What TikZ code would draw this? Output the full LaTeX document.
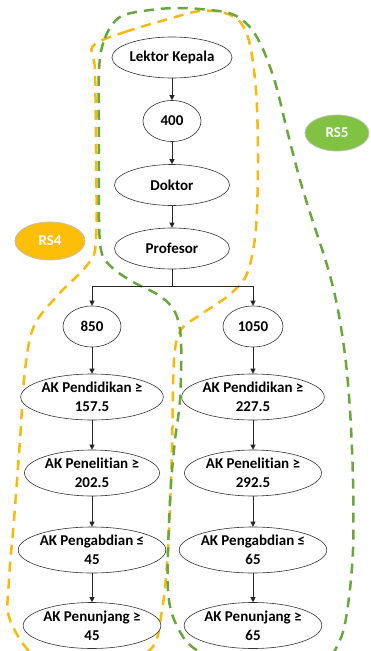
\documentclass[tikz,border=0pt]{standalone}
\usepackage{fontspec}
\setmainfont{Carlito}[Ligatures=NoCommon]
\usetikzlibrary{shapes.geometric,arrows.meta}
\definecolor{rsorange}{HTML}{F7B90A}
\definecolor{rsgreen}{HTML}{6AA63E}
\definecolor{rsorangefill}{HTML}{FDBE08}
\definecolor{rsgreenfill}{HTML}{80C343}
\begin{document}
\begin{tikzpicture}[x=1pt,y=-1pt,
  state/.style={ellipse, draw=black!80, line width=0.6pt, inner sep=0pt,
    font=\fontsize{15}{19}\selectfont\bfseries, align=center, fill=white},
  short/.style={state, minimum width=58, minimum height=41},
  wide/.style={state, minimum width=115, minimum height=41},
  crit/.style={state, minimum width=135, minimum height=46},
  link/.style={draw=black!85, line width=0.6pt, -{Triangle[length=5pt,width=5pt]}},
  tag/.style={ellipse, draw=black!25, line width=0.8pt, inner sep=0pt, text=white,
    font=\fontsize{15}{17}\selectfont\bfseries},
  loop/.style={line width=2.5pt, dash pattern=on 10pt off 7pt}
]
\useasboundingbox (0,0) rectangle (371,651);

% group outlines
\begin{scope}
  \clip (0,0) rectangle (371,651);
  \draw[loop, rsorange] plot[smooth cycle, tension=0.55] coordinates {
    (93,46) (125,32) (165,20) (200,11) (225,13) (241,23) (250,45) (256,90)
    (258,150) (257,210) (254,245) (246,276) (228,296) (200,315) (181,330)
    (174,360) (172,450) (168,550) (162,610) (150,650) (100,668) (40,660)
    (10,620) (9,580) (14,520) (20,440) (25,370) (34,326) (58,295) (88,264)
    (96,240) (96,150) (95,70)};
  \draw[loop, rsgreen] plot[smooth cycle, tension=0.55] coordinates {
    (99,70) (105,38) (120,17) (150,10) (180,8) (210,10) (232,14) (249,26)
    (262,47) (275,82) (287,130) (300,180) (313,222) (327,265) (337,305)
    (345,355) (350,410) (353,480) (353,550) (348,605) (340,640) (320,664)
    (260,672) (200,652) (178,628) (168,590) (170,500) (175,440) (180,400)
    (181,340) (175,312) (160,296) (135,283) (115,270) (102,254) (99,220)
    (99,150)};
\end{scope}

% main chain
\node[wide]  (lk)   at (172,57.5)  {Lektor Kepala};
\node[short] (n400) at (172,121)   {400};
\node[wide]  (dok)  at (172,185)   {Doktor};
\node[wide]  (prof) at (172,248.5) {Profesor};

% branches
\node[short] (n850) at (92,326.5) {850};
\node[short, minimum width=60] (n1050) at (253,326.5) {1050};

\node[crit] (pd1) at (92,397)   {AK Pendidikan ≥\\157.5};
\node[crit] (pn1) at (92,473)   {AK Penelitian ≥\\202.5};
\node[crit] (pg1) at (92,550)   {AK Pengabdian ≤\\45};
\node[crit] (pj1) at (92,625.5) {AK Penunjang ≥\\45};

\node[crit, minimum width=137] (pd2) at (253,397)   {AK Pendidikan ≥\\227.5};
\node[crit, minimum width=137] (pn2) at (253,473)   {AK Penelitian ≥\\292.5};
\node[crit, minimum width=137] (pg2) at (253,550)   {AK Pengabdian ≤\\65};
\node[crit, minimum width=137] (pj2) at (253,625.5) {AK Penunjang ≥\\65};

% group tags
\node[tag, fill=rsorangefill, minimum width=70, minimum height=38] (rs4) at (50,241) {RS4};
\node[tag, fill=rsgreenfill, minimum width=64, minimum height=36] (rs5) at (337,133) {RS5};

% connectors
\draw[link] (lk) -- (n400);
\draw[link] (n400) -- (dok);
\draw[link] (dok) -- (prof);
\coordinate (split) at (172,286);
\draw[draw=black!85, line width=0.6pt] (prof) -- (split);
\draw[link] (split) -| (n850);
\draw[link] (split) -| (n1050);
\draw[link] (n850) -- (pd1);
\draw[link] (pd1) -- (pn1);
\draw[link] (pn1) -- (pg1);
\draw[link] (pg1) -- (pj1);
\draw[link] (n1050) -- (pd2);
\draw[link] (pd2) -- (pn2);
\draw[link] (pn2) -- (pg2);
\draw[link] (pg2) -- (pj2);
\end{tikzpicture}
\end{document}
